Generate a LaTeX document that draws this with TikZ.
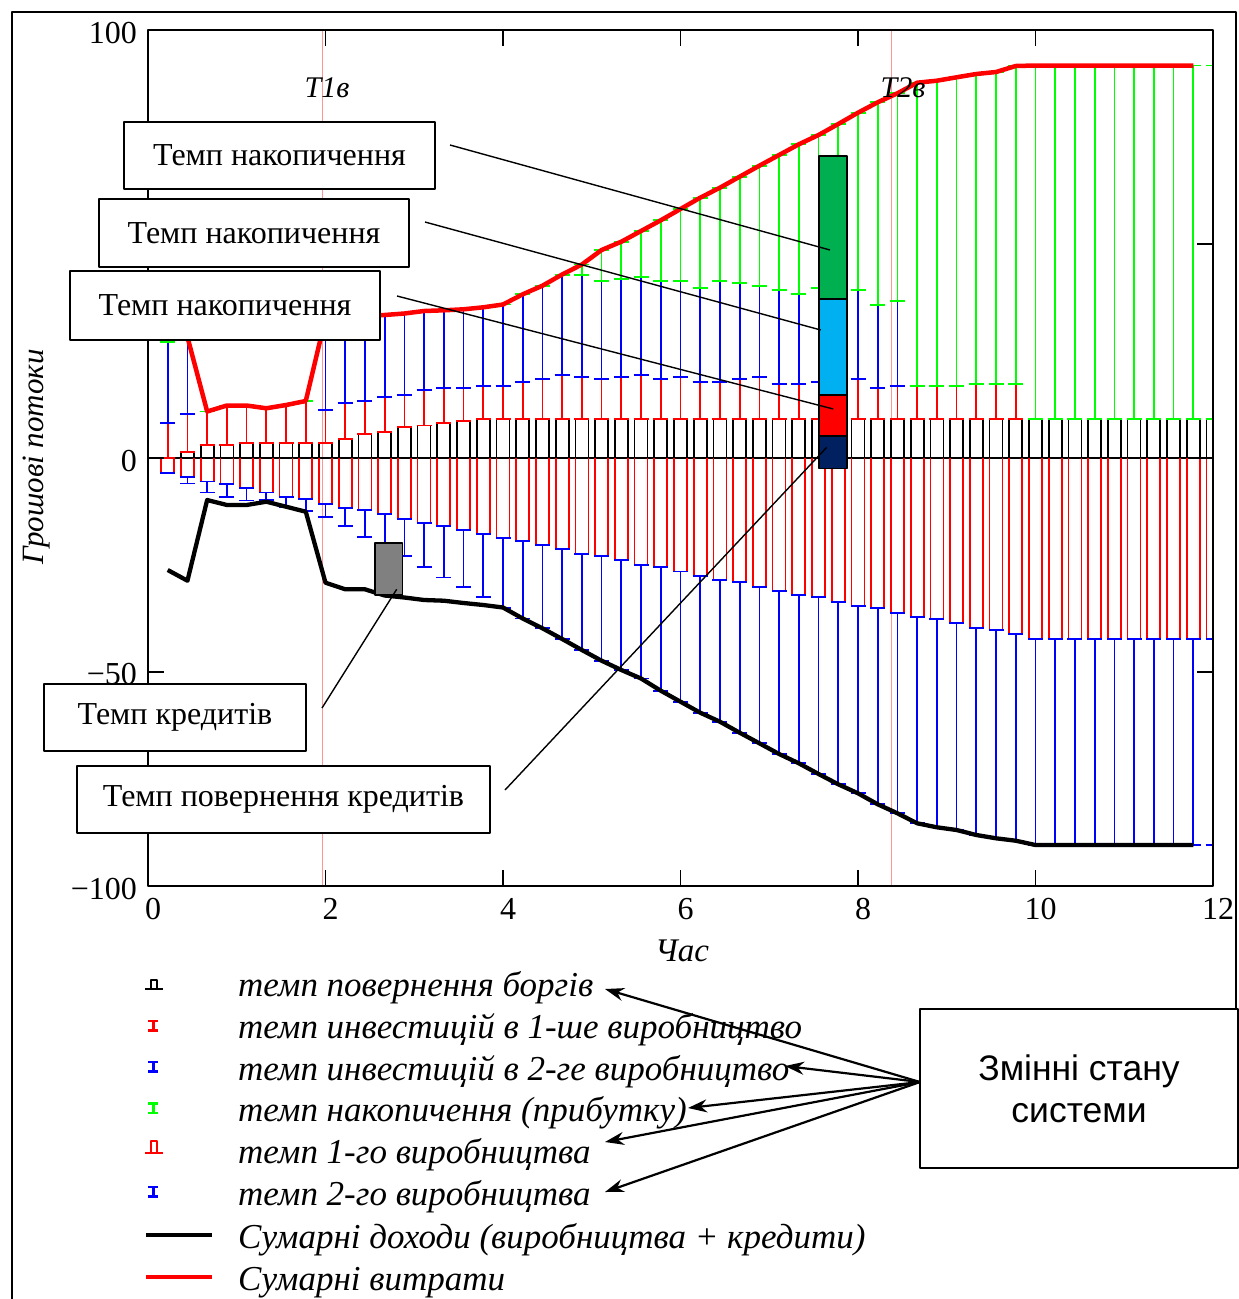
\documentclass[tikz,border=0pt]{standalone}
\usepackage{fontspec}
\setmainfont{Liberation Serif}
\newfontfamily\arialf{Liberation Sans}
\usetikzlibrary{arrows.meta}
\definecolor{segG}{RGB}{0,176,80}
\definecolor{segB}{RGB}{0,176,240}
\definecolor{segN}{RGB}{0,32,96}
\definecolor{grayR}{RGB}{128,128,128}
\definecolor{tline}{RGB}{255,150,150}
\tikzset{
  bw/.style={line width=1.7},
  lbl/.style={draw, line width=1.8, fill=white, inner sep=0, font=\fontsize{32}{38}\selectfont},
  seg/.style={draw, line width=1.6, inner sep=0, minimum width=27.7},
  ann/.style={line width=1.4},
  tick/.style={line width=1.6},
  num/.style={font=\fontsize{32}{38}\selectfont, inner sep=0},
  legt/.style={font=\fontsize{35}{40}\selectfont\itshape, anchor=base west, inner sep=0},
  arr/.style={line width=2.2, -{Stealth[length=19pt,width=13pt]}}
}
\begin{document}
\begin{tikzpicture}[x=1pt,y=-1pt,line join=round]
\useasboundingbox (0,0) rectangle (1239,1299);
\fill[white] (0,0) rectangle (1239,1299);
% outer frame
\draw[line width=1.8] (12,1305) -- (12,12) -- (1236,12) -- (1236,1009);
% T lines
\draw[tline, line width=0.9] (322.7,30) -- (322.7,886);
\draw[tline, line width=0.9] (891,30) -- (891,886);
% zero line
\draw[line width=1.8] (148,458) -- (1213,458);
% bars
\begin{scope}
\clip (148,30) rectangle (1213,886);
\foreach \k/\A/\B/\C/\D/\E/\F in {
1/458/422.7/341.7/305/472.7/472.7,
2/451.7/414/337/337/477/483.5,
3/445/411.5/411.5/411.5/481.5/492.5,
4/445/405.5/405.5/405.5/484/497.3,
5/442.7/405.5/405.5/405.5/488.3/500.5,
6/442.7/408.3/408.3/408.3/492.5/500,
7/442.7/405/405/405/497/507.5,
8/442.7/401/401/401/499.2/511,
9/442.7/410/318/318/503.7/516.7,
10/438.7/403.3/316.5/316.5/508/525.7,
11/434/401/315.5/315.5/510/536.7,
12/432/396.7/315/315/514.2/546,
13/427.3/394.7/313.5/313.5/519/556,
14/425.5/390/311/311/522.7/566.7,
15/423.3/387.7/310.3/310.3/526/577.5,
16/421.3/387.7/309.3/309.3/530/586.7,
17/419/385.7/307.3/307.3/534.3/597.3,
18/419/385.7/304.5/304.5/538.3/608,
19/419/381.7/294.3/294.3/540.7/618.5,
20/419/379.3/285.7/285.7/545/628.3,
21/419/375.3/275/274.5/549.3/639,
22/419/377/275/264.5/554/650,
23/419/379.3/281/250/556/660.7,
24/419/377.3/279.3/241.7/560/670,
25/419/375.3/277/231/565/678.5,
26/419/379.3/281/220.3/567.3/690.7,
27/419/377.3/281/209/571.5/701.7,
28/419/381.7/287.7/197.7/576/712.7,
29/419/381.7/281/187.7/580/721.7,
30/419/379.3/283.3/176.7/582.3/732.7,
31/419/377.3/285.7/165.7/586.7/743.3,
32/419/383.7/290/155/591/754,
33/419/383.7/294.3/144.3/595.3/763.3,
34/419/381.7/287.7/135/597.3/774,
35/419/383/290/124/602/784.3,
36/419/379.3/290/112.7/606/793.3,
37/419/388.3/305.3/102.3/608.3/804.3,
38/419/386/300.7/93.3/612.7/813.3,
39/419/386/386/82.7/616.7/823.3,
40/419/386/386/80.7/619.3/827.3,
41/419/386/386/77.3/623.3/830,
42/419/383.7/383.7/74/628.3/835,
43/419/383.7/383.7/72/630/838.3,
44/419/383.7/383.7/66/634.3/840.7,
45/419/419/419/65.5/639/845,
46/419/419/419/65.5/639/845,
47/419/419/419/65.5/639/845,
48/419/419/419/65.5/639/845,
49/419/419/419/65.5/639/845,
50/419/419/419/65.5/639/845,
51/419/419/419/65.5/639/845,
52/419/419/419/65.5/639/845,
53/419/419/419/65.5/639/845,
54/419/419/419/65.5/639/845}{
  \pgfmathsetmacro\xx{148+19.7222*\k}
  \pgfmathsetmacro\xl{\xx-6.5}
  \pgfmathsetmacro\xr{\xx+6.5}
  \pgfmathsetmacro\cl{\xx-7.5}
  \pgfmathsetmacro\cr{\xx+7.5}
  \draw[black,bw] (\xl,458) -- (\xl,\A) -- (\xr,\A) -- (\xr,458);
  \draw[red,bw] (\xx,\A) -- (\xx,\B) (\cl,\A) -- (\cr,\A) (\cl,\B) -- (\cr,\B);
  \draw[blue,bw] (\xx,\B) -- (\xx,\C) (\cl,\B) -- (\cr,\B) (\cl,\C) -- (\cr,\C);
  \draw[green,bw] (\xx,\C) -- (\xx,\D) (\cl,\C) -- (\cr,\C) (\cl,\D) -- (\cr,\D);
  \draw[red,bw] (\xl,458) -- (\xl,\E) -- (\xr,\E) -- (\xr,458);
  \draw[blue,bw] (\xx,\E) -- (\xx,\F) (\cl,\E) -- (\cr,\E) (\cl,\F) -- (\cr,\F);
}
\end{scope}
% total income (black) and total expenses (red)
\draw[black, line width=4.3] (167.72,570) \foreach \k/\y in {2/580.7,3/500,4/505,5/505,6/501.7,7/506.7,8/511.7,9/582.7,10/589.3,11/589.3,12/595.5,13/597.5,14/600,15/600.7,16/603,17/605,18/607.5,19/618.5,20/628.3,21/639,22/650,23/660.7,24/670,25/678.5,26/690.7,27/701.7,28/712.7,29/721.7,30/732.7,31/743.3,32/754,33/763.3,34/774,35/784.3,36/793.3,37/804.3,38/813.3,39/823.3,40/827.3,41/830,42/835,43/838.3,44/840.7,45/845,53/845}{ -- ({148+19.7222*\k},\y)};
\draw[red, line width=4.5] (167.72,305) \foreach \k/\y in {2/337,3/411.5,4/405.5,5/405.5,6/408.3,7/405,8/401,9/318,10/316.5,11/315.5,12/315,13/313.5,14/311,15/310.3,16/309.3,17/307.3,18/304.5,19/294.3,20/285.7,21/274.5,22/264.5,23/250,24/241.7,25/231,26/220.3,27/209,28/197.7,29/187.7,30/176.7,31/165.7,32/155,33/144.3,34/135,35/124,36/112.7,37/102.3,38/93.3,39/82.7,40/80.7,41/77.3,42/74,43/72,44/66,45/65.5,53/65.5}{ -- ({148+19.7222*\k},\y)};
% plot frame and ticks
\draw[line width=1.8] (148,30) rectangle (1213,886);
\foreach \yy in {30,244,458,672,886}{
  \draw[tick] (148,\yy) -- (164,\yy);
  \draw[tick] (1213,\yy) -- (1197,\yy);
}
\foreach \i in {1,...,5}{
  \draw[tick] ({148+177.5*\i},886) -- ({148+177.5*\i},870);
  \draw[tick] ({148+177.5*\i},30) -- ({148+177.5*\i},46);
}
% tick labels
\node[num, anchor=east] (y100) at (137,33) {100};
\node[num, anchor=east] (y0) at (137,461) {0};
\node[num, anchor=east] (y50) at (137,674) {−50};
\node[num, anchor=east] (y100n) at (137,889) {−100};
\foreach \i/\t in {0/0,1/2,2/4,3/6,4/8,5/10,6/12}{
  \node[num] (xl\i) at ({153+177.5*\i},909) {\t};
}
\node[num, font=\fontsize{33}{38}\selectfont\itshape] (xlab) at (682,951) {Час};
\node[num, font=\fontsize{31}{36}\selectfont\itshape, rotate=90] (ylab) at (37,457) {Грошові потоки};
\node[num, font=\fontsize{30}{36}\selectfont\itshape] (t1) at (327,88) {T1в};
\node[num, font=\fontsize{30}{36}\selectfont\itshape] (t2) at (903,88) {T2в};
% stacked colour bar
\node[seg, fill=segG, minimum height=143] (sg) at (832.9,227.5) {};
\node[seg, fill=segB, minimum height=96] (sb) at (832.9,347) {};
\node[seg, fill=red, minimum height=40.7] (sr) at (832.9,415.4) {};
\node[seg, fill=segN, minimum height=32.6] (sn) at (832.9,452) {};
% grey credit bar
\node[draw, line width=1.6, fill=grayR, inner sep=0, minimum width=27.3, minimum height=52.3] (gr) at (388.7,568.9) {};
% label boxes
\node[lbl, minimum width=311, minimum height=67] (b1) at (279.5,155.5) {Темп накопичення};
\node[lbl, minimum width=310, minimum height=68] (b2) at (254,233) {Темп накопичення};
\node[lbl, minimum width=310, minimum height=69] (b3) at (225,305.5) {Темп накопичення};
\node[lbl, minimum width=262, minimum height=67] (b4) at (175,717.5) {Темп кредитів};
\node[lbl, minimum width=413, minimum height=67] (b5) at (283.5,799.5) {Темп повернення кредитів};
% annotation connectors
\coordinate (s1) at (450,145); \coordinate (e1) at (830,250);
\coordinate (s2) at (425,222); \coordinate (e2) at (820.7,330);
\coordinate (s3) at (397,296); \coordinate (e3) at (833.3,409);
\coordinate (s4) at (322,708); \coordinate (e4) at (396.7,589.3);
\coordinate (s5) at (505,790); \coordinate (e5) at (826.7,447.3);
\draw[ann] (s1) -- (e1);
\draw[ann] (s2) -- (e2);
\draw[ann] (s3) -- (e3);
\draw[ann] (s4) -- (e4);
\draw[ann] (s5) -- (e5);
% legend symbols
\draw[black, line width=2] (145,988.5) -- (163.3,988.5) (150.7,988.5) -- (150.7,979.5) -- (156.5,979.5) -- (156.5,988.5);
\draw[red, line width=2.4] (153.3,1021) -- (153.3,1030.5) (148.3,1021) -- (158.3,1021) (148.3,1030.5) -- (158.3,1030.5);
\draw[blue, line width=2.4] (153.3,1062) -- (153.3,1071.5) (148.3,1062) -- (158.3,1062) (148.3,1071.5) -- (158.3,1071.5);
\draw[green, line width=2.4] (153.3,1103.5) -- (153.3,1113) (148.3,1103.5) -- (158.3,1103.5) (148.3,1113) -- (158.3,1113);
\draw[red, line width=2] (145,1153.3) -- (163.3,1153.3) (150.7,1153.3) -- (150.7,1141) -- (156.5,1141) -- (156.5,1153.3);
\draw[blue, line width=2.4] (153.3,1187) -- (153.3,1196.5) (148.3,1187) -- (158.3,1187) (148.3,1196.5) -- (158.3,1196.5);
\draw[black, line width=4.3] (146,1235.3) -- (211.7,1235.3);
\draw[red, line width=4.3] (146,1276.7) -- (211.7,1276.7);
% legend texts
\node[legt] (g1) at (238,996.7) {темп повернення боргів};
\node[legt] (g2) at (238,1038) {темп инвестицій в 1-ше виробництво};
\node[legt] (g3) at (238,1080) {темп инвестицій в 2-ге виробництво};
\node[legt] (g4) at (238,1121.7) {темп накопичення (прибутку)};
\node[legt] (g5) at (238,1163.3) {темп 1-го виробництва};
\node[legt] (g6) at (238,1205) {темп 2-го виробництва};
\node[legt] (g7) at (238,1248.3) {Сумарні доходи (виробництва + кредити)};
\node[legt] (g8) at (238,1290) {Сумарні витрати};
% state variables box
\node[draw, line width=1.8, fill=white, minimum width=318, minimum height=159, inner sep=0, align=center, font=\arialf\fontsize{35.5}{42}\selectfont] (zs) at (1079,1088.5) {Змінні стану\\системи};
\coordinate (zsrc) at (920,1082);
\coordinate (a1) at (605,989);
\coordinate (a3) at (785,1066);
\coordinate (a4) at (688,1108);
\coordinate (a5) at (605,1142);
\coordinate (a6) at (605,1192);
\draw[arr] (zsrc) -- (a1);
\draw[arr] (zsrc) -- (a3);
\draw[arr] (zsrc) -- (a4);
\draw[arr] (zsrc) -- (a5);
\draw[arr] (zsrc) -- (a6);
\end{tikzpicture}
\end{document}
